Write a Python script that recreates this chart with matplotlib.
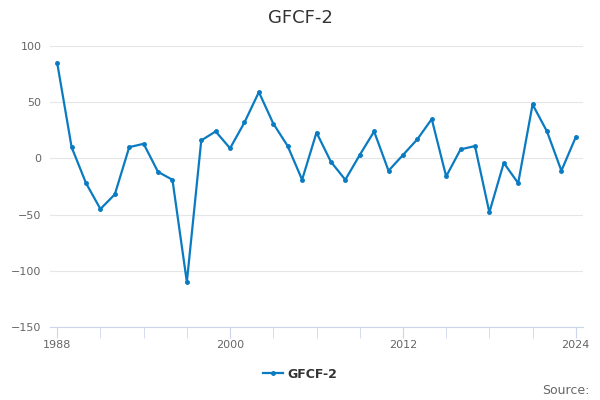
"""GFCF-2 line chart."""
import matplotlib
matplotlib.use('Agg')
import matplotlib.pyplot as plt

years = list(range(1988, 2025))
gfcf = [85, 10, -22, -45, -32, 10, 13, -12, -19, -110,
        16, 24, 9, 32, 59, 31, 11, -19, 23, -3,
        -19, 3, 24, -11, 3, 17, 35, -16, 8, 11,
        -48, -4, -22, 48, 24, -11, 19]

y_ticks = [-150, -100, -50, 0, 50, 100]
x_labels = [1988, 2000, 2012, 2024]
x_minor = list(range(1988, 2025, 3))

color = '#0a7bc1'

fig = plt.figure(figsize=(6, 4), dpi=100)
ax = fig.add_axes([50 / 600, 73 / 400, 533 / 600, 281 / 400])

ax.plot(years, gfcf, color=color, lw=1.6, marker='o', ms=2.5,
        label='GFCF-2')

ax.set_xlim(1987.5, 2024.5)
ax.set_ylim(-150, 100)
ax.set_yticks(y_ticks)
ax.set_xticks(x_labels)
ax.set_xticks(x_minor, minor=True)
ax.grid(axis='y', color='#e6e6e6', lw=0.8)
ax.set_axisbelow(True)

for side in ['top', 'right', 'left']:
    ax.spines[side].set_visible(False)
ax.spines['bottom'].set_color('#ccd6eb')

ax.tick_params(axis='y', length=0, labelsize=8, labelcolor='#666666', pad=6)
ax.tick_params(axis='x', which='both', length=8, color='#ccd6eb',
               labelsize=8, labelcolor='#666666', pad=1)
ax.tick_params(axis='x', which='major', length=8)

fig.text(0.5, 0.955, 'GFCF-2', ha='center', va='center', fontsize=13,
         color='#333333')

leg = fig.legend(loc='center', bbox_to_anchor=(0.5, 0.065), frameon=False,
                 prop={'weight': 'bold', 'size': 9}, handlelength=1.6,
                 handletextpad=0.4)
for t in leg.get_texts():
    t.set_color('#333333')

fig.text(0.982, 0.025, 'Source:', ha='right', va='center', fontsize=9,
         color='#666666')

plt.savefig('out.png', dpi=100)
